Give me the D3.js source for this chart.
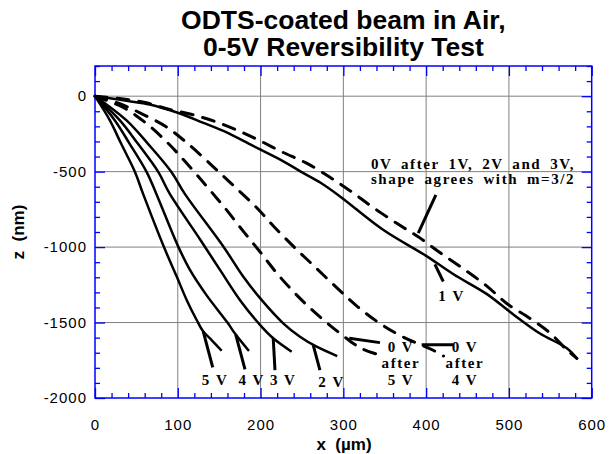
<!DOCTYPE html>
<html><head><meta charset="utf-8">
<script src="https://cdn.jsdelivr.net/npm/d3@7"></script>
<style>body{margin:0;background:#fff;} svg{display:block}</style>
</head><body><svg id="c" width="616" height="454"></svg>
<script>
// ---- data ----
const titleLines = ["ODTS-coated beam in Air,", "0-5V Reversibility Test"];
const xTicks = [0, 100, 200, 300, 400, 500, 600];
const yTicks = [0, -500, -1000, -1500, -2000];
const xLabel = "x  (\u00b5m)";
const yLabel = "z  (nm)";

// solid curves (x in um, z in nm)
const v1 = [[0,0],[20,-15],[40,-32],[66,-55],[100,-110],[131,-177],[159,-240],[191,-330],[227,-430],[248,-498],[272,-572],[296,-664],[348,-885],[400,-1058],[433,-1180],[473,-1310],[505,-1445],[537,-1571],[570,-1671],[583,-1744]];
const v2 = [[0,0],[37.8,-159],[63.8,-314],[92.3,-502],[108.3,-646],[155,-996],[179,-1195],[201.2,-1350],[227.4,-1505],[247.6,-1594],[267.7,-1660],[292.6,-1722]];
const v3 = [[0,0],[29.8,-159],[51.7,-314],[76.4,-502],[90.2,-646],[127.4,-953],[151,-1151],[175,-1350],[199.3,-1515],[215.3,-1604],[237.6,-1693]];
const v4 = [[0,0],[23.8,-159],[41.7,-314],[62.3,-502],[74,-646],[100.6,-997],[114.7,-1151],[134.9,-1320],[160,-1500],[170,-1580],[186,-1689]];
const v5 = [[0,0],[17.8,-159],[31.5,-314],[48.3,-502],[58,-646],[83.3,-1000],[98.7,-1195],[110.7,-1350],[122.8,-1483],[130.8,-1560],[140.9,-1616],[153,-1687]];
// dashed curves
const after123 = [[0,0],[30,-16],[62,-44],[88,-85],[116,-120],[144,-166],[172,-226],[198,-292],[227,-372],[255,-442],[282,-531],[308,-626],[334,-730],[364,-841],[390,-930],[417,-1038],[445,-1144],[473,-1257],[497,-1372],[525,-1471],[550,-1571],[570,-1682],[582,-1737]];
const after4 = [[0,0],[30,-50],[56,-115],[86,-203],[112,-314],[141,-458],[166,-586],[193,-726],[216,-863],[241.5,-1005],[266,-1133],[292.6,-1272],[317,-1394],[345,-1509],[373,-1598],[408,-1682],[421,-1722]];
const after5 = [[0,0],[34,-75],[62,-180],[88,-310],[110,-440],[135,-598],[157,-741],[179,-894],[200,-1036],[221,-1182],[245.5,-1328],[270,-1454],[297,-1576],[321,-1669],[348,-1722]];

// annotations: pointer segments [[x1,z1],[x2,z2]]
const pointers = [
  [[130.8,-1560],[142.2,-1797]],
  [[170,-1580],[181.2,-1810]],
  [[215.3,-1604],[217.4,-1815]],
  [[263.6,-1649],[271.7,-1815]],
  [[410.6,-1115],[420.7,-1228]],
  [[411.8,-654],[390.5,-907]],
  [[307.1,-1604],[344.2,-1633]],
  [[394.6,-1647],[432.7,-1647]]
];
const labels = [
  {t:"5 V", x:145, z:-1915, a:"middle"},
  {t:"4 V", x:189.3, z:-1915, a:"middle"},
  {t:"3 V", x:227.4, z:-1915, a:"middle"},
  {t:"2 V", x:285.9, z:-1928, a:"middle"},
  {t:"1 V", x:430.8, z:-1357, a:"middle"},
  {t:"0V after 1V, 2V and 3V,", x:333.3, z:-480, a:"start"},
  {t:"shape agrees with m=3/2", x:333.3, z:-580, a:"start"},
  {t:"0 V", x:369.6, z:-1693, a:"middle"},
  {t:"after", x:369.6, z:-1803, a:"middle"},
  {t:"5 V", x:369.6, z:-1914, a:"middle"},
  {t:"0 V", x:446.9, z:-1693, a:"middle"},
  {t:"after", x:446.9, z:-1803, a:"middle"},
  {t:"4 V", x:446.9, z:-1914, a:"middle"}
];

// ---- drawing ----
const svg = d3.select("#c");
const L = 95, R = 591.7, T = 66, B = 398;
const x = d3.scaleLinear().domain([0, 600]).range([L, R]);
const y = d3.scaleLinear().domain([-2000, 200]).range([B, T]);
const blue = "#0000ff";

svg.append("rect").attr("width", 616).attr("height", 454).attr("fill", "#fff");

// grid
const g = svg.append("g");
g.selectAll(".gx").data(xTicks.slice(1, -1)).join("line")
  .attr("x1", d => x(d)).attr("x2", d => x(d)).attr("y1", T).attr("y2", B)
  .attr("stroke", "#808080").attr("stroke-width", 1);
g.selectAll(".gy").data(yTicks.slice(0, -1)).join("line")
  .attr("y1", d => y(d)).attr("y2", d => y(d)).attr("x1", L).attr("x2", R)
  .attr("stroke", "#808080").attr("stroke-width", 1);

// minor tick values
const xMinor = d3.range(0, 601, 20).filter(v => v % 100 !== 0);
const yMinor = d3.range(-2000, 201, 100).filter(v => v % 500 !== 0);

function ax(gen, tx, ty, vals, size) {
  const a = svg.append("g").attr("transform", `translate(${tx},${ty})`)
    .call(gen.tickValues(vals).tickSize(size).tickFormat(""));
  a.select(".domain").remove();
  a.selectAll("line").attr("stroke", blue).attr("stroke-width", 1.3);
  return a;
}
ax(d3.axisBottom(x), 0, B, xMinor, -5);
ax(d3.axisBottom(x), 0, B, xTicks, -10);
ax(d3.axisTop(x), 0, T, xMinor, -5);
ax(d3.axisTop(x), 0, T, xTicks, -10);
ax(d3.axisLeft(y), L, 0, yMinor, -5);
ax(d3.axisLeft(y), L, 0, yTicks, -10);
ax(d3.axisRight(y), R, 0, yMinor, -5);
ax(d3.axisRight(y), R, 0, yTicks, -10);

// tick labels
const xl = svg.append("g").attr("transform", `translate(0,${B})`)
  .call(d3.axisBottom(x).tickValues(xTicks).tickSize(0).tickPadding(21).tickFormat(d3.format("d")));
xl.select(".domain").remove();
xl.selectAll("text").attr("font-family", "Liberation Sans, Arial, sans-serif").attr("font-size", 15)
  .attr("fill", "#000").style("letter-spacing", "1px");
const yl = svg.append("g").attr("transform", `translate(${L},0)`)
  .call(d3.axisLeft(y).tickValues(yTicks).tickSize(0).tickPadding(8).tickFormat(d => d3.format("d")(d).replace("\u2212", "-")));
yl.select(".domain").remove();
yl.selectAll("text").attr("font-family", "Liberation Sans, Arial, sans-serif").attr("font-size", 15)
  .attr("fill", "#000").style("letter-spacing", "1px");

// frame
svg.append("rect").attr("x", L).attr("y", T).attr("width", R - L).attr("height", B - T)
  .attr("fill", "none").attr("stroke", blue).attr("stroke-width", 1.5);

// curves
const line = d3.line().x(d => x(d[0])).y(d => y(d[1])).curve(d3.curveCatmullRom.alpha(0.5));
[v1, v2, v3, v4, v5].forEach(s => {
  svg.append("path").attr("d", line(s)).attr("fill", "none").attr("stroke", "#000")
    .attr("stroke-width", 2.5).attr("stroke-linejoin", "round");
});
[after123, after4, after5].forEach(s => {
  svg.append("path").attr("d", line(s)).attr("fill", "none").attr("stroke", "#000")
    .attr("stroke-width", 3).attr("stroke-dasharray", "12,10").attr("stroke-linecap", "round");
});

// pointers
svg.selectAll(".ptr").data(pointers).join("line")
  .attr("x1", d => x(d[0][0])).attr("y1", d => y(d[0][1]))
  .attr("x2", d => x(d[1][0])).attr("y2", d => y(d[1][1]))
  .attr("stroke", "#000").attr("stroke-width", 3);

// labels
svg.selectAll(".lab").data(labels).join("text")
  .attr("x", d => x(d.x)).attr("y", d => y(d.z)).attr("text-anchor", d => d.a)
  .attr("font-family", "Liberation Serif, Times New Roman, serif").attr("font-weight", "bold")
  .attr("font-size", 15).style("letter-spacing", "1.6px")
  .style("word-spacing", d => d.t.length > 6 ? "3.5px" : "0px").attr("fill", "#000")
  .text(d => d.t);

// titles
svg.selectAll(".title").data(titleLines).join("text")
  .attr("x", (L + R) / 2).attr("y", (d, i) => 29 + i * 27).attr("text-anchor", "middle")
  .attr("font-family", "Liberation Sans, Arial, sans-serif").attr("font-weight", "bold")
  .attr("font-size", 26.5).attr("fill", "#000").text(d => d);

svg.append("text").attr("x", 344).attr("y", 450).attr("text-anchor", "middle")
  .attr("font-family", "Liberation Sans, Arial, sans-serif").attr("font-weight", "bold")
  .attr("font-size", 17).attr("fill", "#000").style("white-space", "pre").text(xLabel);
svg.append("text").attr("transform", `translate(24,${(T + B) / 2}) rotate(-90)`).attr("text-anchor", "middle")
  .attr("font-family", "Liberation Sans, Arial, sans-serif").attr("font-weight", "bold")
  .attr("font-size", 17).attr("fill", "#000").style("white-space", "pre").text(yLabel);
</script></body></html>
